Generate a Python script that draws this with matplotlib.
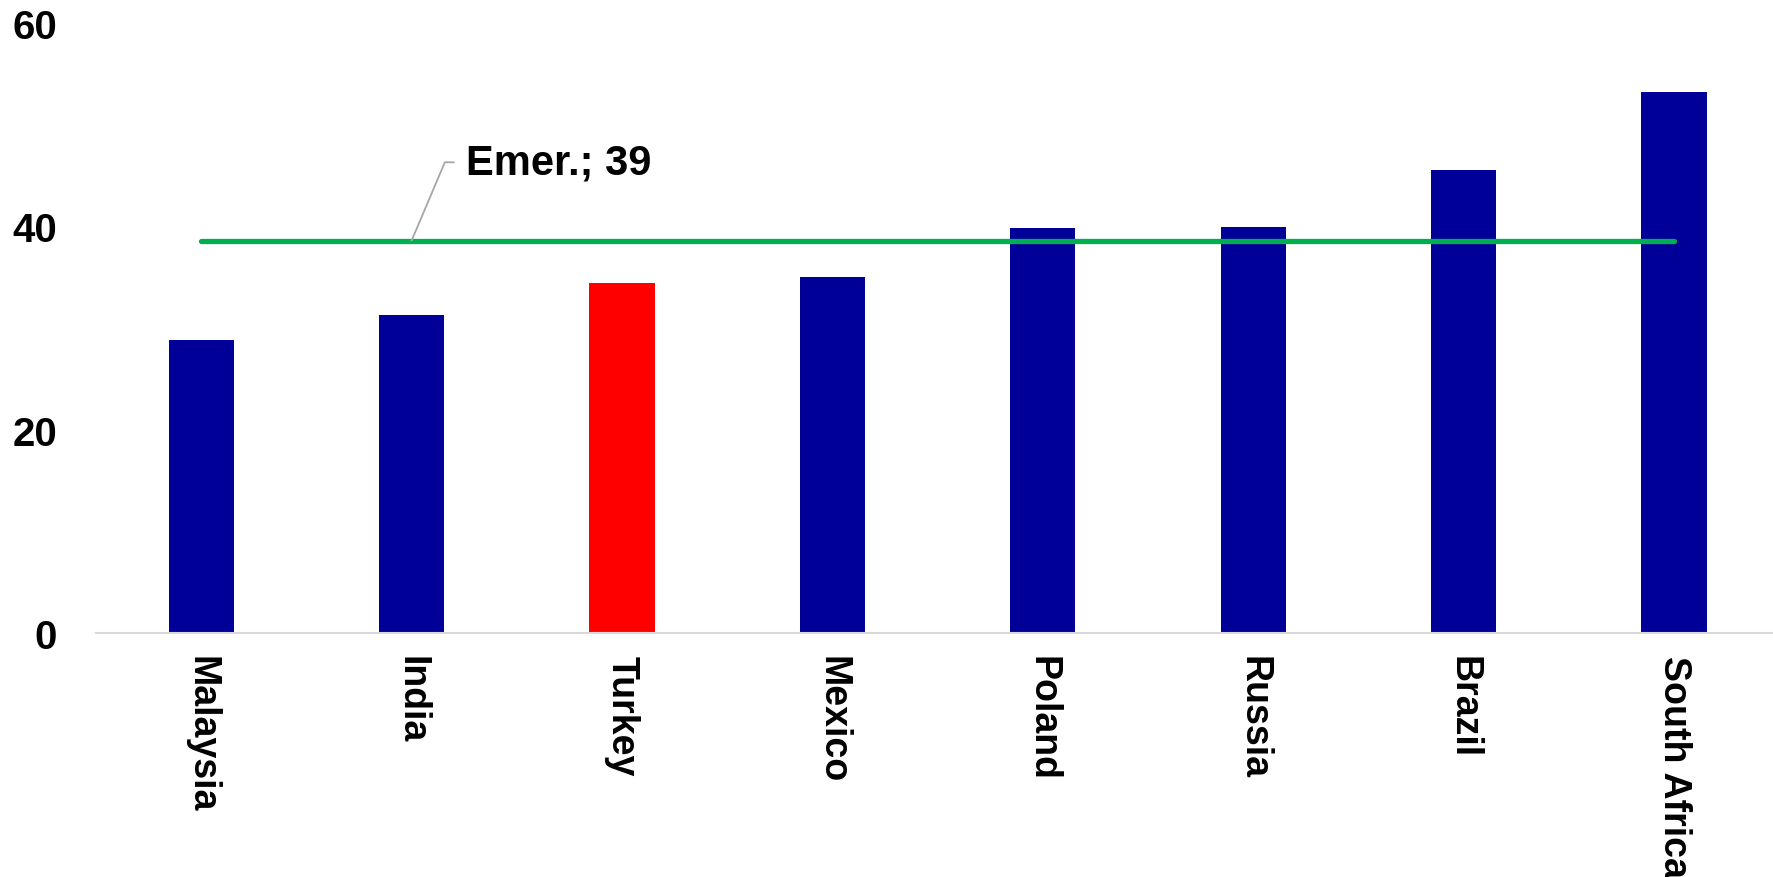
import matplotlib
matplotlib.use("Agg")
import matplotlib.pyplot as plt

categories = ["Malaysia", "India", "Turkey", "Mexico", "Poland", "Russia", "Brazil", "South Africa"]
values = [28.8, 31.3, 34.4, 35.0, 39.8, 39.9, 45.5, 53.2]
highlight = "Turkey"
emer_value = 38.6
emer_label = "Emer.; 39"
yticks = [0, 20, 40, 60]

plt.rcParams['font.family'] = ['Liberation Sans', 'DejaVu Sans']
plt.rcParams['font.weight'] = 'bold'

fig = plt.figure(figsize=(17.73, 8.78), dpi=100)
ax = fig.add_axes([96/1773, 1 - 634/878, 1 - 96/1773, (634 - 24)/878])

x = list(range(len(categories)))
colors = ["#FF0000" if c == highlight else "#000099" for c in categories]
ax.bar(x, values, width=0.31, color=colors, zorder=2)

ax.plot([x[0], x[-1]], [emer_value, emer_value], color="#00B050", lw=3.8,
        solid_capstyle='round', zorder=3)

ax.annotate(emer_label, xy=(1, emer_value), xytext=(1.26, 46.3),
            fontsize=30, fontweight='bold', ha='left', va='center',
            arrowprops=dict(arrowstyle='-', color='#a6a6a6', lw=1.3,
                            connectionstyle='angle,angleA=0,angleB=67,rad=0',
                            shrinkA=7, shrinkB=0, relpos=(0, 0.5)), zorder=4)

ax.set_xlim(-0.5, 7.47)
ax.set_ylim(0, 60)
ax.set_yticks(yticks)
ax.set_yticklabels([str(t) for t in yticks], fontsize=29, fontweight='bold')
ax.set_xticks(x)
ax.set_xticklabels(categories, rotation=-90, fontsize=27, fontweight='bold',
                   ha='center', va='top')
ax.tick_params(axis='y', length=0, pad=28)
ax.tick_params(axis='x', length=0, pad=16)

for s in ['top', 'right', 'left']:
    ax.spines[s].set_visible(False)
ax.spines['bottom'].set_color('#d9d9d9')
ax.spines['bottom'].set_linewidth(1.5)

fig.savefig("out.png", dpi=100)
